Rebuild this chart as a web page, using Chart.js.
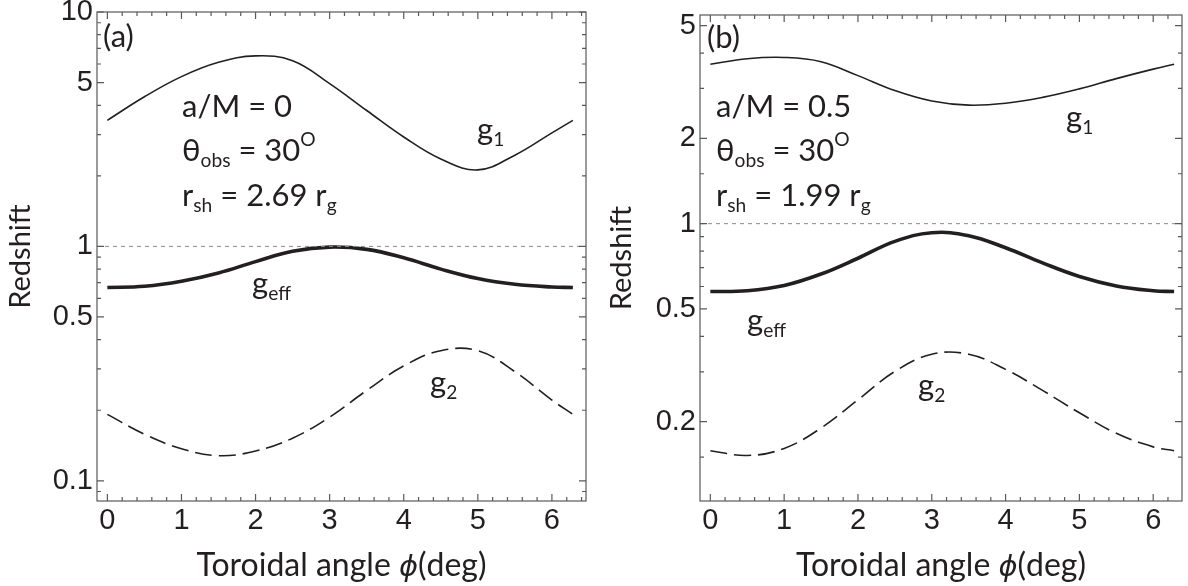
<!DOCTYPE html>
<html lang="en">
<head>
  <meta charset="UTF-8">
  <title>Redshift vs toroidal angle</title>
  <script src="https://cdn.jsdelivr.net/npm/chart.js"></script>
  <style>
    body {
      margin: 0;
      background: #fff;
      width: 1188px;
      height: 586px;
      overflow: hidden;
      position: relative;
    }

    .panel {
      position: absolute;
      top: 0;
      width: 594px;
      height: 586px;
    }

    #wrapA { left: 0; }
    #wrapB { left: 594px; }

    /* text laid over the plots */
    .note {
      position: absolute;
      font-family: 'Lato', sans-serif;
      font-size: 31px;
      line-height: 1;
      color: #231f20;
      white-space: nowrap;
    }

    .note sub, .note sup {
      font-size: 0.62em;
      vertical-align: baseline;
      position: relative;
    }

    .note sub { top: 0.32em; }
    .note sup { top: -0.8em; }

    .xtitle {
      position: absolute;
      font-family: 'Lato', sans-serif;
      font-size: 32px;
      line-height: 1;
      color: #231f20;
      text-align: center;
      white-space: nowrap;
    }

    .xtitle i { font-family: 'DejaVu Sans', sans-serif; font-size: 0.9em; }
  </style>
</head>

<body>
  <div id="wrapA" class="panel"><canvas id="chartA"></canvas></div>
  <div id="wrapB" class="panel"><canvas id="chartB"></canvas></div>

  <!-- panel (a) labels -->
  <div class="note" style="left:103px; top:20px;">(a)</div>
  <div class="note" style="left:182px; top:90px;">a/M = 0</div>
  <div class="note" style="left:182px; top:134px;">&theta;<sub>obs</sub> = 30<sup>O</sup></div>
  <div class="note" style="left:182px; top:179px;">r<sub>sh</sub> = 2.69 r<sub>g</sub></div>
  <div class="note" style="left:477px; top:113px;">g<sub>1</sub></div>
  <div class="note" style="left:252px; top:267px;">g<sub>eff</sub></div>
  <div class="note" style="left:430px; top:366px;">g<sub>2</sub></div>

  <!-- panel (b) labels -->
  <div class="note" style="left:707px; top:21px;">(b)</div>
  <div class="note" style="left:716px; top:90px;">a/M = 0.5</div>
  <div class="note" style="left:716px; top:134px;">&theta;<sub>obs</sub> = 30<sup>O</sup></div>
  <div class="note" style="left:716px; top:179px;">r<sub>sh</sub> = 1.99 r<sub>g</sub></div>
  <div class="note" style="left:1066px; top:101px;">g<sub>1</sub></div>
  <div class="note" style="left:747px; top:304px;">g<sub>eff</sub></div>
  <div class="note" style="left:918px; top:369px;">g<sub>2</sub></div>

  <div class="xtitle" style="left:97px; width:489px; top:548px;">Toroidal angle <i>&#981;</i>(deg)</div>
  <div class="xtitle" style="left:700px; width:482px; top:548px;">Toroidal angle <i>&#981;</i>(deg)</div>

  <script>
    // toroidal angle samples (rad, labelled deg on the plot)
    const phi = [0, 0.5, 1, 1.5, 2, 2.5, 3, 3.5, 4, 4.5, 5, 5.5, 6, 6.283];

    // panel (a): a/M = 0
    const g1A = [3.45, 4.35, 5.3, 6.1, 6.5, 6.2, 4.95, 3.8, 2.93, 2.36, 2.12, 2.45, 3.05, 3.45];
    const geffA = [0.668, 0.676, 0.710, 0.770, 0.861, 0.953, 0.993, 0.971, 0.894, 0.800, 0.729, 0.689, 0.671, 0.668];
    const g2A = [0.192, 0.158, 0.137, 0.128, 0.134, 0.152, 0.187, 0.243, 0.309, 0.359, 0.359, 0.292, 0.221, 0.192];

    // panel (b): a/M = 0.5
    const g1B = [3.65, 3.82, 3.86, 3.73, 3.33, 2.95, 2.71, 2.62, 2.66, 2.79, 2.99, 3.25, 3.51, 3.65];
    const geffB = [0.576, 0.580, 0.605, 0.664, 0.755, 0.866, 0.929, 0.907, 0.822, 0.727, 0.651, 0.603, 0.580, 0.576];
    const g2B = [0.158, 0.152, 0.161, 0.190, 0.239, 0.301, 0.346, 0.346, 0.306, 0.258, 0.215, 0.182, 0.163, 0.158];

    // ticks
    const xMajor = [0, 1, 2, 3, 4, 5, 6];
    const xMinor = [0.2, 0.4, 0.6, 0.8, 1.2, 1.4, 1.6, 1.8, 2.2, 2.4, 2.6, 2.8, 3.2, 3.4, 3.6, 3.8,
      4.2, 4.4, 4.6, 4.8, 5.2, 5.4, 5.6, 5.8, 6.2, 6.4];
    const yMajorA = [0.1, 0.5, 1, 5, 10];
    const yMinorA = [0.09, 0.2, 0.3, 0.4, 0.6, 0.7, 0.8, 0.9, 2, 3, 4, 6, 7, 8, 9];
    const yMajorB = [0.2, 0.5, 1, 2, 5];
    const yMinorB = [0.15, 0.3, 0.4, 0.6, 0.7, 0.8, 0.9, 1.5, 3, 4];

    const INK = '#231f20';
    const FRAME = '#58595b';

    // Mathematica-style frame: box on all four sides, ticks pointing inwards
    const tickFrame = {
      id: 'tickFrame',
      afterDatasetsDraw(chart, args, opts) {
        const { ctx, chartArea: a } = chart;
        const xs = chart.scales.x, ys = chart.scales.y;
        ctx.save();
        ctx.strokeStyle = FRAME;
        ctx.lineWidth = 1.2;
        ctx.strokeRect(a.left, a.top, a.right - a.left, a.bottom - a.top);
        ctx.beginPath();
        const mark = (vals, len, isX) => vals.forEach(v => {
          if (isX) {
            const p = xs.getPixelForValue(v);
            if (p < a.left || p > a.right) return;
            ctx.moveTo(p, a.bottom); ctx.lineTo(p, a.bottom - len);
            ctx.moveTo(p, a.top); ctx.lineTo(p, a.top + len);
          } else {
            const p = ys.getPixelForValue(v);
            if (p < a.top || p > a.bottom) return;
            ctx.moveTo(a.left, p); ctx.lineTo(a.left + len, p);
            ctx.moveTo(a.right, p); ctx.lineTo(a.right - len, p);
          }
        });
        mark(xMajor, 7, true);
        mark(xMinor, 4, true);
        mark(opts.yMajor, 7, false);
        mark(opts.yMinor, 4, false);
        ctx.stroke();
        ctx.restore();
      }
    };

    function series(values, width, dash) {
      return {
        data: phi.map((x, i) => ({ x: x, y: values[i] })),
        borderColor: INK,
        borderWidth: width,
        borderDash: dash || [],
        pointRadius: 0,
        tension: 0.4,
        fill: false
      };
    }

    function makePanel(id, p) {
      const unity = {
        data: [{ x: p.xMin, y: 1 }, { x: p.xMax, y: 1 }],
        borderColor: '#8c8c8c',
        borderWidth: 1,
        borderDash: [4, 4],
        pointRadius: 0
      };
      return new Chart(document.getElementById(id), {
        type: 'line',
        data: {
          datasets: [unity, series(p.g1, 1.6), series(p.geff, 3.6), series(p.g2, 1.6, [17, 7])]
        },
        plugins: [tickFrame],
        options: {
          responsive: true,
          maintainAspectRatio: false,
          animation: false,
          layout: { padding: { left: p.padLeft, right: p.padRight, top: p.padTop, bottom: 0 } },
          plugins: {
            legend: { display: false },
            tooltip: { enabled: false },
            tickFrame: { yMajor: p.yMajor, yMinor: p.yMinor }
          },
          scales: {
            x: {
              type: 'linear',
              min: p.xMin,
              max: p.xMax,
              grid: { display: false, drawTicks: false },
              border: { display: false },
              afterBuildTicks: s => { s.ticks = xMajor.map(v => ({ value: v })); },
              afterFit: s => { s.height = 85; s.paddingLeft = 0; s.paddingRight = 0; },
              ticks: {
                padding: 3,
                color: INK,
                font: { family: 'Liberation Sans', size: 29 },
                callback: v => String(v)
              }
            },
            y: {
              type: 'logarithmic',
              min: p.yMin,
              max: p.yMax,
              grid: { display: false, drawTicks: false },
              border: { display: false },
              afterBuildTicks: s => { s.ticks = p.yMajor.map(v => ({ value: v })); },
              // fixed width, and no extra room reserved for the top label
              afterFit: s => { s.width = p.yWidth; s.paddingTop = 0; s.paddingBottom = 0; },
              title: {
                display: true,
                text: 'Redshift',
                color: INK,
                padding: 0,
                font: { family: 'Lato', size: 29 }
              },
              ticks: {
                padding: 4,
                color: INK,
                font: { family: 'Liberation Sans', size: 29 },
                callback: v => String(v)
              }
            }
          }
        }
      });
    }

    makePanel('chartA', {
      g1: g1A, geff: geffA, g2: g2A,
      xMin: -0.14, xMax: 6.46, yMin: 0.082, yMax: 10,
      yMajor: yMajorA, yMinor: yMinorA,
      padLeft: 3, padRight: 8, padTop: 12, yWidth: 94
    });

    makePanel('chartB', {
      g1: g1B, geff: geffB, g2: g2B,
      xMin: -0.14, xMax: 6.39, yMin: 0.105, yMax: 5.45,
      yMajor: yMajorB, yMinor: yMinorB,
      padLeft: 10, padRight: 6, padTop: 15, yWidth: 96
    });
  </script>
</body>

</html>
